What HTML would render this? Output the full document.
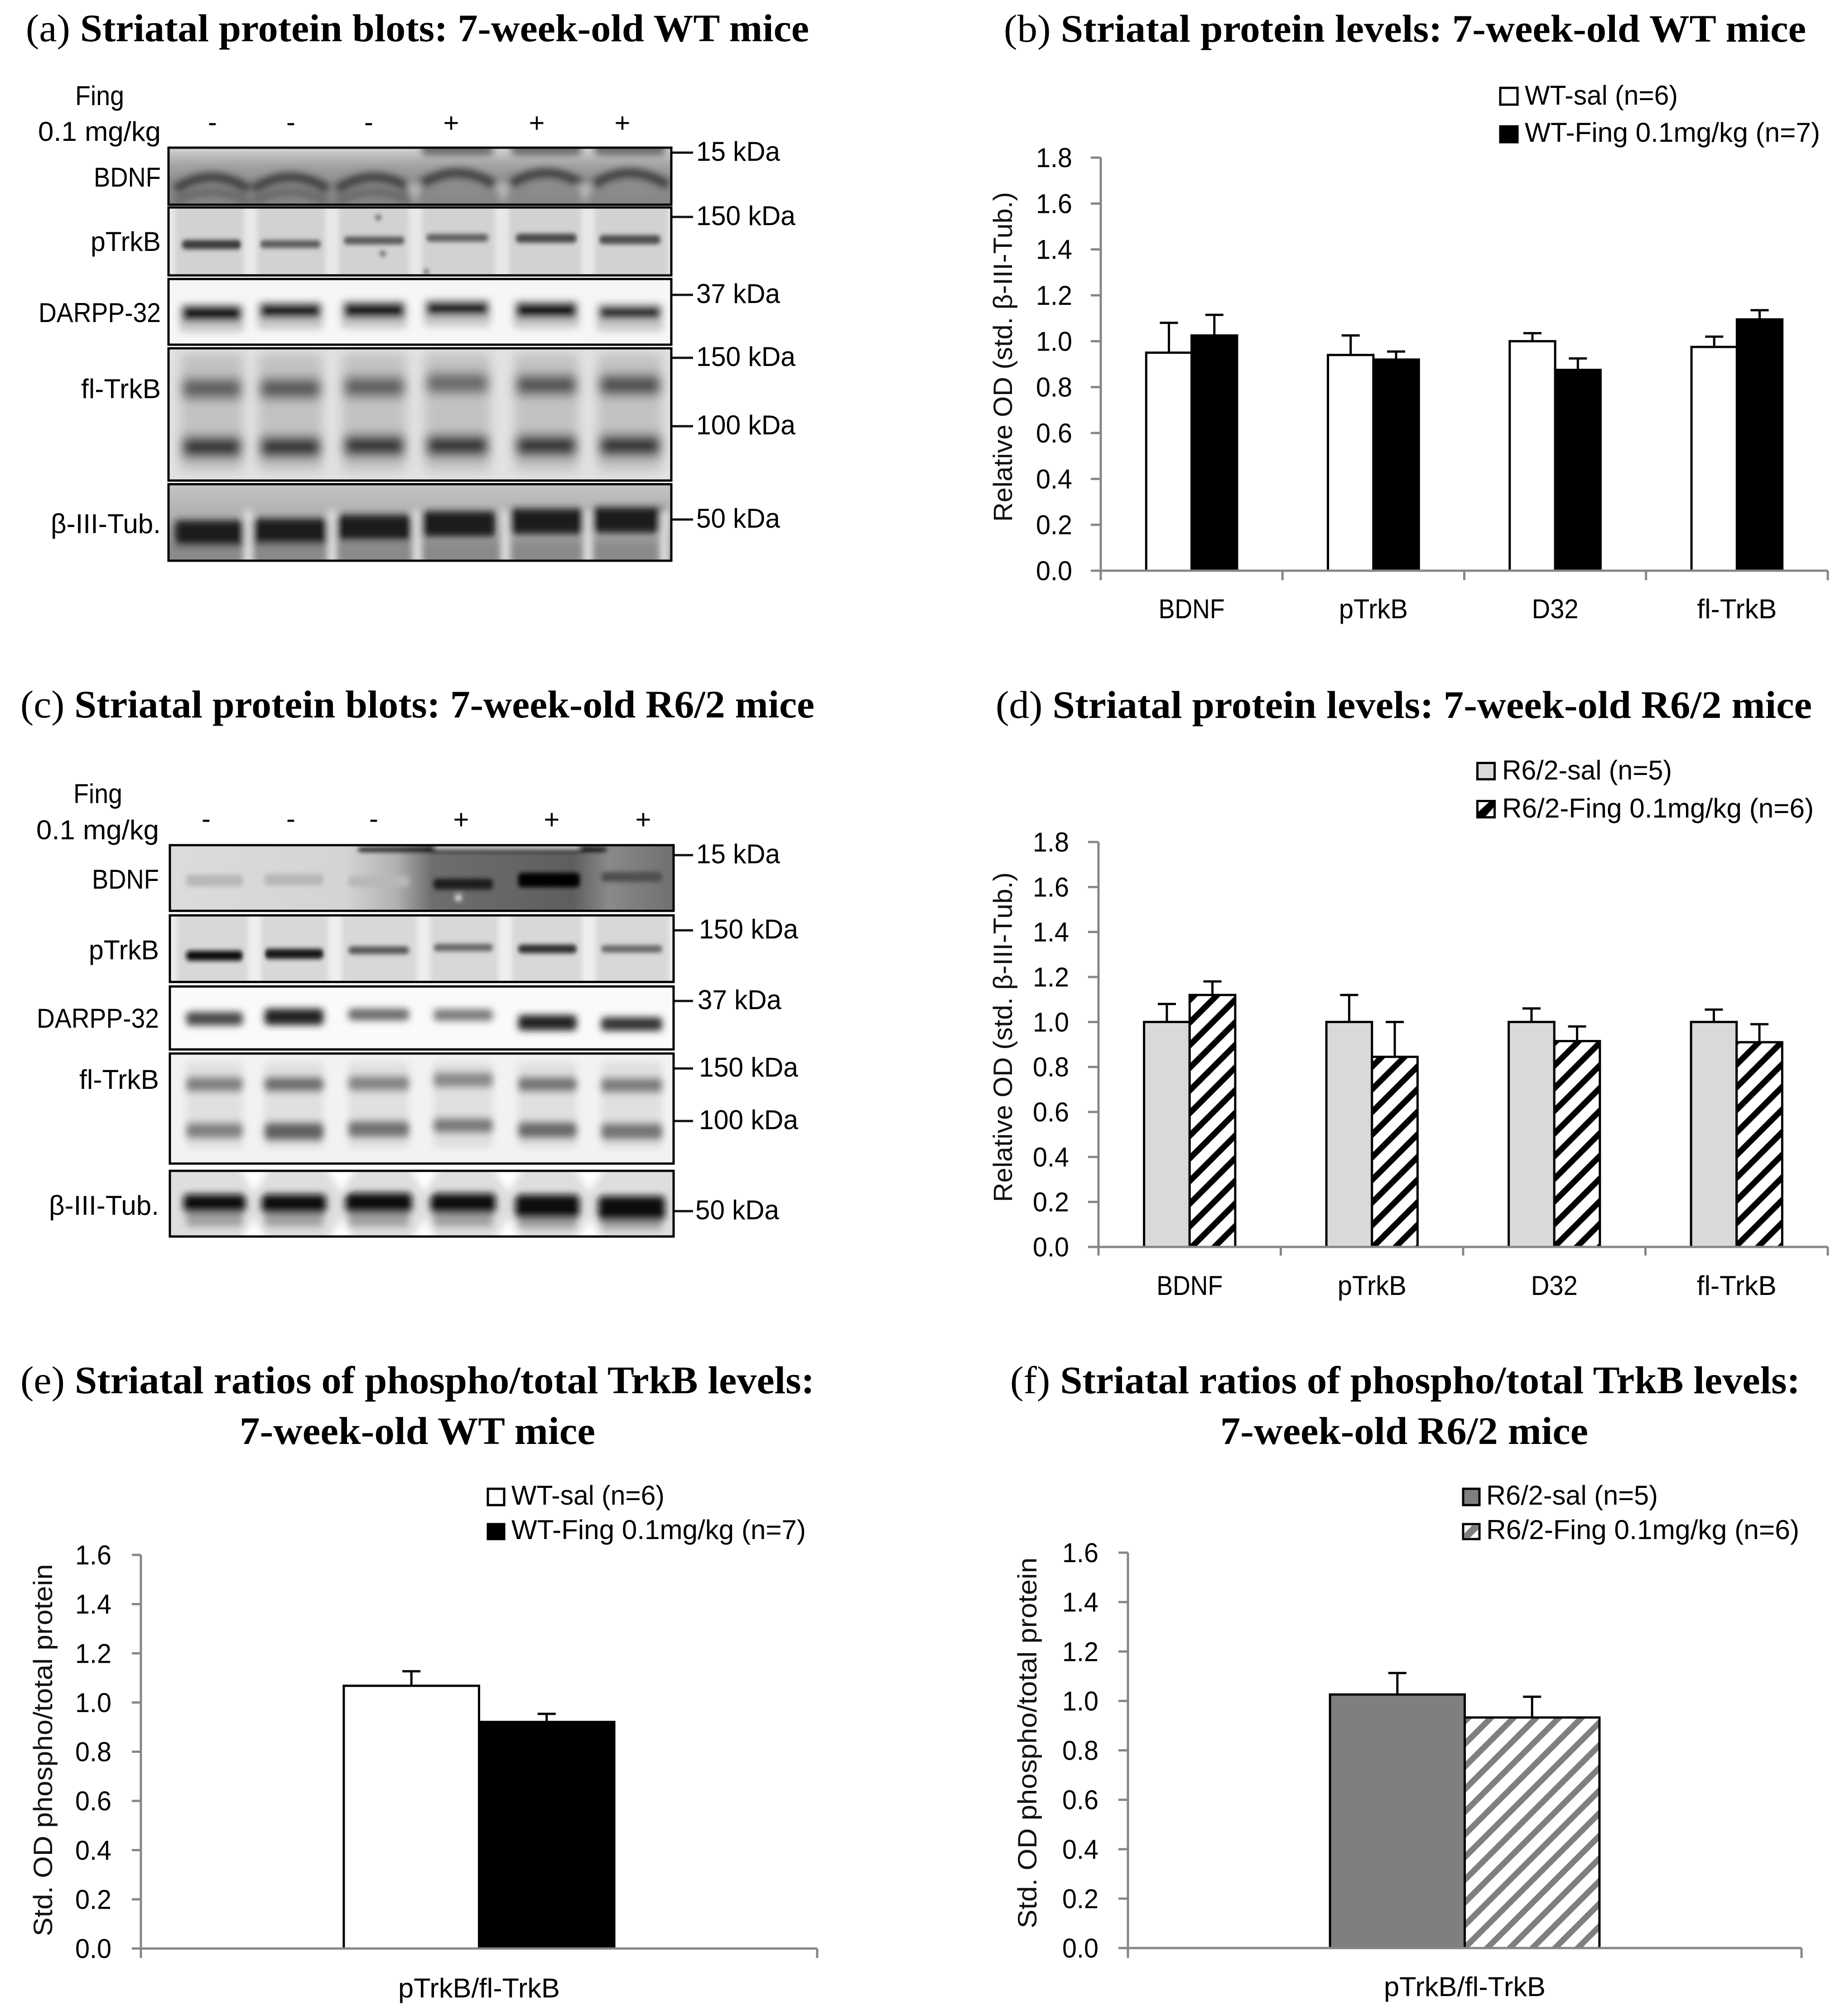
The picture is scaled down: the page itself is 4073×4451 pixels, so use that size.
<!DOCTYPE html>
<html lang="en">
<head>
<meta charset="utf-8">
<title>Striatal protein blots and levels</title>
<style>
html,body{margin:0;padding:0;background:#fff;width:4073px;height:4451px;overflow:hidden}
svg{display:block}
.title{font-family:"Liberation Serif",serif;font-size:86px;fill:#000;font-weight:700}
.title .pre{font-weight:400}
.lbl{font-family:"Liberation Sans",sans-serif;font-size:60px;fill:#000}
.ytitle{font-family:"Liberation Sans",sans-serif;font-size:58px;fill:#111}
</style>
</head>
<body>
<svg id="fig" xmlns="http://www.w3.org/2000/svg" width="4073" height="4451" viewBox="0 0 4073 4451">
<defs>
<pattern id="hatch-black" patternUnits="userSpaceOnUse" width="50" height="50"><rect width="50" height="50" fill="#fff"/><path d="M-5 39L39 -5M29 55L55 29" stroke="#000" stroke-width="13" fill="none"/></pattern>
<pattern id="hatch-gray" patternUnits="userSpaceOnUse" width="50" height="50"><rect width="50" height="50" fill="#fff"/><path d="M-5 39L39 -5M29 55L55 29" stroke="#7f7f7f" stroke-width="13" fill="none"/></pattern>
<linearGradient id="g-a-bdnf" x1="0" y1="0" x2="0" y2="1"><stop offset="0" stop-color="#d4d4d4"/><stop offset=".3" stop-color="#a4a4a4"/><stop offset=".6" stop-color="#8e8e8e"/><stop offset="1" stop-color="#868686"/></linearGradient>
<linearGradient id="g-a-tub" x1="0" y1="0" x2="0" y2="1"><stop offset="0" stop-color="#c4c4c4"/><stop offset=".4" stop-color="#b0b0b0"/><stop offset="1" stop-color="#8c8c8c"/></linearGradient>
<linearGradient id="g-c-bdnf" x1="0" y1="0" x2="1" y2="0"><stop offset="0" stop-color="#dcdcdc"/><stop offset=".35" stop-color="#d4d4d4"/><stop offset=".45" stop-color="#b0b0b0"/><stop offset=".52" stop-color="#6e6e6e"/><stop offset=".8" stop-color="#5e5e5e"/><stop offset=".87" stop-color="#8a8a8a"/><stop offset="1" stop-color="#707070"/></linearGradient>
<filter id="b5" filterUnits="userSpaceOnUse" x="0" y="0" width="4073" height="4451"><feGaussianBlur stdDeviation="5"/></filter>
<filter id="b8" filterUnits="userSpaceOnUse" x="0" y="0" width="4073" height="4451"><feGaussianBlur stdDeviation="8"/></filter>
<filter id="b12" filterUnits="userSpaceOnUse" x="0" y="0" width="4073" height="4451"><feGaussianBlur stdDeviation="12"/></filter>
</defs>

<!-- Titles -->
<text class="title" x="57" y="91" textLength="1729" lengthAdjust="spacingAndGlyphs"><tspan class="pre">(a) </tspan>Striatal protein blots: 7-week-old WT mice</text>
<text class="title" x="2216" y="92" textLength="1771" lengthAdjust="spacingAndGlyphs"><tspan class="pre">(b) </tspan>Striatal protein levels: 7-week-old WT mice</text>
<text class="title" x="45" y="1584" textLength="1753" lengthAdjust="spacingAndGlyphs"><tspan class="pre">(c) </tspan>Striatal protein blots: 7-week-old R6/2 mice</text>
<text class="title" x="2198" y="1585" textLength="1802" lengthAdjust="spacingAndGlyphs"><tspan class="pre">(d) </tspan>Striatal protein levels: 7-week-old R6/2 mice</text>
<text class="title" x="45" y="3076" textLength="1753" lengthAdjust="spacingAndGlyphs"><tspan class="pre">(e) </tspan>Striatal ratios of phospho/total TrkB levels:</text>
<text class="title" x="529" y="3188" textLength="785" lengthAdjust="spacingAndGlyphs">7-week-old WT mice</text>
<text class="title" x="2230" y="3076" textLength="1744" lengthAdjust="spacingAndGlyphs"><tspan class="pre">(f) </tspan>Striatal ratios of phospho/total TrkB levels:</text>
<text class="title" x="2694" y="3188" textLength="812" lengthAdjust="spacingAndGlyphs">7-week-old R6/2 mice</text>

<!-- Blot a headers -->
<text class="lbl" x="166" y="232" textLength="108" lengthAdjust="spacingAndGlyphs">Fing</text>
<text class="lbl" x="84" y="311" textLength="271" lengthAdjust="spacingAndGlyphs">0.1 mg/kg</text>
<g class="lbl" text-anchor="middle">
<text x="469" y="290">-</text><text x="642" y="290">-</text><text x="814" y="290">-</text><text x="996" y="292">+</text><text x="1185" y="292">+</text><text x="1374" y="292">+</text>
</g>
<!-- Blot c headers -->
<text class="lbl" x="162" y="1773" textLength="108" lengthAdjust="spacingAndGlyphs">Fing</text>
<text class="lbl" x="80" y="1853" textLength="271" lengthAdjust="spacingAndGlyphs">0.1 mg/kg</text>
<g class="lbl" text-anchor="middle">
<text x="455" y="1828">-</text><text x="642" y="1828">-</text><text x="825" y="1828">-</text><text x="1018" y="1830">+</text><text x="1218" y="1830">+</text><text x="1420" y="1830">+</text>
</g>

<g id="blots"></g>

<!-- Row labels -->
<g text-anchor="end" class="lbl">
<text x="355" y="412" textLength="148" lengthAdjust="spacingAndGlyphs">BDNF</text>
<text x="355" y="554" textLength="155" lengthAdjust="spacingAndGlyphs">pTrkB</text>
<text x="355" y="711" textLength="270" lengthAdjust="spacingAndGlyphs">DARPP-32</text>
<text x="355" y="879" textLength="176" lengthAdjust="spacingAndGlyphs">fl-TrkB</text>
<text x="355" y="1177" textLength="243" lengthAdjust="spacingAndGlyphs">β-III-Tub.</text>
<text x="351" y="1962" textLength="148" lengthAdjust="spacingAndGlyphs">BDNF</text>
<text x="351" y="2118" textLength="155" lengthAdjust="spacingAndGlyphs">pTrkB</text>
<text x="351" y="2269" textLength="270" lengthAdjust="spacingAndGlyphs">DARPP-32</text>
<text x="351" y="2404" textLength="176" lengthAdjust="spacingAndGlyphs">fl-TrkB</text>
<text x="351" y="2682" textLength="243" lengthAdjust="spacingAndGlyphs">β-III-Tub.</text>
</g>

<!-- kDa markers -->
<g stroke="#111" stroke-width="5">
<path d="M1484 337H1530M1484 479H1530M1484 651H1530M1484 790H1530M1484 941H1530M1484 1147H1530M1489 1888H1530M1489 2054H1530M1489 2210H1530M1489 2359H1530M1489 2475H1530M1489 2674H1530" fill="none"/>
</g>
<g class="lbl">
<text x="1537" y="355" textLength="185" lengthAdjust="spacingAndGlyphs">15 kDa</text>
<text x="1537" y="497" textLength="219" lengthAdjust="spacingAndGlyphs">150 kDa</text>
<text x="1537" y="669" textLength="185" lengthAdjust="spacingAndGlyphs">37 kDa</text>
<text x="1537" y="808" textLength="219" lengthAdjust="spacingAndGlyphs">150 kDa</text>
<text x="1537" y="959" textLength="219" lengthAdjust="spacingAndGlyphs">100 kDa</text>
<text x="1537" y="1165" textLength="185" lengthAdjust="spacingAndGlyphs">50 kDa</text>
<text x="1537" y="1906" textLength="185" lengthAdjust="spacingAndGlyphs">15 kDa</text>
<text x="1543" y="2072" textLength="219" lengthAdjust="spacingAndGlyphs">150 kDa</text>
<text x="1540" y="2228" textLength="185" lengthAdjust="spacingAndGlyphs">37 kDa</text>
<text x="1543" y="2377" textLength="219" lengthAdjust="spacingAndGlyphs">150 kDa</text>
<text x="1543" y="2493" textLength="219" lengthAdjust="spacingAndGlyphs">100 kDa</text>
<text x="1535" y="2692" textLength="185" lengthAdjust="spacingAndGlyphs">50 kDa</text>
</g>

<g id="charts"></g>

<!-- Legends -->
<g>
<rect x="3312" y="194" width="38" height="37" fill="#fff" stroke="#000" stroke-width="5"/>
<text class="lbl" x="3366" y="231" textLength="338" lengthAdjust="spacingAndGlyphs">WT-sal (n=6)</text>
<rect x="3312" y="279" width="38" height="35" fill="#000" stroke="#000" stroke-width="5"/>
<text class="lbl" x="3366" y="313" textLength="652" lengthAdjust="spacingAndGlyphs">WT-Fing 0.1mg/kg (n=7)</text>
</g>
<g>
<rect x="3261.5" y="1684.5" width="38" height="36" fill="#d9d9d9" stroke="#000" stroke-width="5"/>
<text class="lbl" x="3316" y="1721" textLength="375" lengthAdjust="spacingAndGlyphs">R6/2-sal (n=5)</text>
<rect x="3261.5" y="1768.5" width="38" height="36" fill="#fff" stroke="#000" stroke-width="5"/>
<path d="M3264 1792L3287 1771H3297V1783L3280 1802H3264Z" fill="#000"/>
<text class="lbl" x="3316" y="1805" textLength="688" lengthAdjust="spacingAndGlyphs">R6/2-Fing 0.1mg/kg (n=6)</text>
</g>
<g>
<rect x="1077" y="3287" width="36" height="36" fill="#fff" stroke="#000" stroke-width="5"/>
<text class="lbl" x="1129" y="3322" textLength="338" lengthAdjust="spacingAndGlyphs">WT-sal (n=6)</text>
<rect x="1077" y="3365" width="36" height="33" fill="#000" stroke="#000" stroke-width="5"/>
<text class="lbl" x="1129" y="3398" textLength="650" lengthAdjust="spacingAndGlyphs">WT-Fing 0.1mg/kg (n=7)</text>
</g>
<g>
<rect x="3230" y="3287" width="36" height="36" fill="#7f7f7f" stroke="#000" stroke-width="5"/>
<text class="lbl" x="3281" y="3322" textLength="379" lengthAdjust="spacingAndGlyphs">R6/2-sal (n=5)</text>
<rect x="3230" y="3365" width="36" height="33" fill="#fff" stroke="#000" stroke-width="5"/>
<path d="M3233 3385L3250 3368H3263V3377L3245 3395H3233Z" fill="#7f7f7f"/>
<text class="lbl" x="3281" y="3398" textLength="691" lengthAdjust="spacingAndGlyphs">R6/2-Fing 0.1mg/kg (n=6)</text>
</g>
</svg>

<script>
// ---- Chart data ----
const categoriesLevels = ["BDNF", "pTrkB", "D32", "fl-TrkB"];
const categoriesRatio = ["pTrkB/fl-TrkB"];
const ticksLevels = ["0.0", "0.2", "0.4", "0.6", "0.8", "1.0", "1.2", "1.4", "1.6", "1.8"];
const ticksRatio = ["0.0", "0.2", "0.4", "0.6", "0.8", "1.0", "1.2", "1.4", "1.6"];

const bSalValues = [0.95, 0.94, 1.0, 0.975];
const bSalErrors = [0.13, 0.085, 0.035, 0.045];
const bFingValues = [1.025, 0.92, 0.875, 1.095];
const bFingErrors = [0.09, 0.035, 0.05, 0.04];

const dSalValues = [1.0, 1.0, 1.0, 1.0];
const dSalErrors = [0.08, 0.12, 0.06, 0.055];
const dFingValues = [1.12, 0.845, 0.915, 0.91];
const dFingErrors = [0.06, 0.155, 0.065, 0.08];

const eSalValues = [1.068];
const eSalErrors = [0.059];
const eFingValues = [0.921];
const eFingErrors = [0.033];

const fSalValues = [1.026];
const fSalErrors = [0.087];
const fFingValues = [0.933];
const fFingErrors = [0.084];

const NS = "http://www.w3.org/2000/svg";
const labelWidths = {"BDNF":146, "pTrkB":152, "D32":103, "fl-TrkB":176, "pTrkB/fl-TrkB":357};

function mk(parent, tag, attrs, text) {
  const el = document.createElementNS(NS, tag);
  for (const k in attrs) el.setAttribute(k, attrs[k]);
  if (text !== undefined) el.textContent = text;
  parent.appendChild(el);
  return el;
}

function drawChart(opts) {
  const root = document.getElementById("charts");
  const g = mk(root, "g", {});
  
  
  const f = opts.frame;
  const maxV = parseFloat(opts.ticks[opts.ticks.length - 1]);
  const y = v => f.bottom - (v / maxV) * (f.bottom - f.top);
  const catW = (f.right - f.left) / opts.categories.length;
  const catX = i => f.left + catW * i;
  const barW = catW * opts.barFrac;
  const barX = (i, s) => catX(i) + (catW - 2 * barW) / 2 + s * barW;

  // bars and error bars
  opts.series.forEach((s, si) => {
    s.values.forEach((v, i) => {
      const r = mk(g, "rect", {x: barX(i, si), y: y(v), width: barW, height: f.bottom - y(v), fill: s.fill, stroke: "#000", "stroke-width": 5});
      
      
    });
  });
  opts.series.forEach((s, si) => {
    s.values.forEach((v, i) => {
      const cx = barX(i, si) + barW / 2;
      const top = y(v + s.errors[i]);
      const e = mk(g, "path", {d: "M" + cx + " " + y(v) + "V" + top + "M" + (cx - 20) + " " + top + "H" + (cx + 20), stroke: "#000", "stroke-width": 5, fill: "none"});
      
      
    });
  });

  // axes
  const axisColor = "#868686";
  const yAxis = mk(g, "path", {d: "M" + f.left + " " + f.top + "V" + f.bottom, stroke: axisColor, "stroke-width": 5, fill: "none"});
  
  
  const xAxis = mk(g, "path", {d: "M" + f.left + " " + f.bottom + "H" + f.right, stroke: axisColor, "stroke-width": 5, fill: "none"});
  
  

  opts.ticks.forEach(label => {
    const v = parseFloat(label);
    const tick = mk(g, "path", {d: "M" + f.tickLeft + " " + y(v) + "H" + f.left, stroke: axisColor, "stroke-width": 5});
    
    
    const t = mk(g, "text", {x: f.labelRight, y: y(v) + 21, "text-anchor": "end", "class": "lbl", textLength: 80, lengthAdjust: "spacingAndGlyphs"}, label);
    
    
  });
  for (let i = 0; i <= opts.categories.length; i++) {
    const tick = mk(g, "path", {d: "M" + catX(i) + " " + f.bottom + "V" + f.tickDown, stroke: axisColor, "stroke-width": 5});
    
    
  }
  opts.categories.forEach((c, i) => {
    const cx = catX(i) + catW / 2 + (opts.labelShift || 0);
    const t = mk(g, "text", {x: cx, y: f.catBase, "text-anchor": "middle", "class": "lbl", textLength: labelWidths[c], lengthAdjust: "spacingAndGlyphs"}, c);
    
    
  });

  // y title
  const yt = opts.yTitle;
  const title = mk(g, "text", {x: yt.x, y: yt.y, "text-anchor": "middle", "class": "ytitle", textLength: yt.len, lengthAdjust: "spacingAndGlyphs", transform: "rotate(-90 " + yt.x + " " + yt.y + ")"}, yt.text);
  
  
}

drawChart({
  name: "chart-b-wt-levels", categories: categoriesLevels, ticks: ticksLevels, barFrac: 0.25, labelShift: 0,
  frame: {left: 2430, right: 4035, top: 348, bottom: 1260, tickLeft: 2408, tickDown: 1281, labelRight: 2367, catBase: 1365},
  yTitle: {x: 2234, y: 788, len: 728, text: "Relative OD (std. β-III-Tub.)"},
  series: [
    {key: "wt-sal", values: bSalValues, errors: bSalErrors, fill: "#fff"},
    {key: "wt-fing", values: bFingValues, errors: bFingErrors, fill: "#000"}
  ]
});
drawChart({
  name: "chart-d-r62-levels", categories: categoriesLevels, ticks: ticksLevels, barFrac: 0.25, labelShift: 0,
  frame: {left: 2425, right: 4035, top: 1859, bottom: 2753, tickLeft: 2402, tickDown: 2772, labelRight: 2360, catBase: 2859},
  yTitle: {x: 2234, y: 2290, len: 728, text: "Relative OD (std. β-III-Tub.)"},
  series: [
    {key: "r62-sal", values: dSalValues, errors: dSalErrors, fill: "#d9d9d9"},
    {key: "r62-fing", values: dFingValues, errors: dFingErrors, fill: "url(#hatch-black)"}
  ]
});
drawChart({
  name: "chart-e-wt-ratio", categories: categoriesRatio, ticks: ticksRatio, barFrac: 0.2, labelShift: 0,
  frame: {left: 311, right: 1804, top: 3433, bottom: 4302, tickLeft: 291, tickDown: 4323, labelRight: 246, catBase: 4410},
  yTitle: {x: 115, y: 3864, len: 822, text: "Std. OD phospho/total protein"},
  series: [
    {key: "wt-sal", values: eSalValues, errors: eSalErrors, fill: "#fff"},
    {key: "wt-fing", values: eFingValues, errors: eFingErrors, fill: "#000"}
  ]
});
drawChart({
  name: "chart-f-r62-ratio", categories: categoriesRatio, ticks: ticksRatio, barFrac: 0.2, labelShift: 0,
  frame: {left: 2490, right: 3977, top: 3428, bottom: 4301, tickLeft: 2469, tickDown: 4323, labelRight: 2425, catBase: 4407},
  yTitle: {x: 2288, y: 3848, len: 819, text: "Std. OD phospho/total protein"},
  series: [
    {key: "r62-sal", values: fSalValues, errors: fSalErrors, fill: "#7f7f7f"},
    {key: "r62-fing", values: fFingValues, errors: fFingErrors, fill: "url(#hatch-gray)"}
  ]
});

// ---- Blot images, painted with blurred shapes ----
const lanesA = [[402,533],[574,708],[759,893],[941,1078],[1139,1273],[1323,1458]];
const lanesC = [[411,536],[584,714],[769,903],[957,1088],[1144,1273],[1327,1462]];
let clipCount = 0;

function panel(name, box, bg, blur, paint) {
  const root = document.getElementById("blots");
  const outer = mk(root, "g", {});
  
  
  const id = "clip" + (clipCount++);
  const cp = mk(outer, "clipPath", {id: id});
  mk(cp, "rect", {x: box[0], y: box[1], width: box[2], height: box[3]});
  const c = mk(outer, "g", {"clip-path": "url(#" + id + ")"});
  mk(c, "rect", {x: box[0], y: box[1], width: box[2], height: box[3], fill: bg});
  const g = mk(c, "g", {filter: "url(#" + blur + ")"});
  paint(g);
  mk(outer, "rect", {x: box[0], y: box[1], width: box[2], height: box[3], fill: "none", stroke: "#000", "stroke-width": 5});
}
function band(g, x0, x1, yc, h, fill) {
  mk(g, "rect", {x: x0, y: yc - h / 2, width: x1 - x0, height: h, fill: fill, rx: 8});
}
function laneBands(g, lanes, ys, hs, cols, pad) {
  lanes.forEach((l, i) => band(g, l[0] - (pad || 0), l[1] + (pad || 0), ys[i], hs[i], cols[i]));
}
function rep(v) { return [v, v, v, v, v, v]; }

// Panel (a)
panel("blot-bdnf-a", [372,326,1110,126], "url(#g-a-bdnf)", "b8", g => {
  [3,4,5].forEach(i => band(g, lanesA[i][0] - 10, lanesA[i][1] + 10, 330, 26, "#6a6a6a"));
  lanesA.forEach((l, i) => {
    const yb = i < 3 ? 394 : 385;
    mk(g, "path", {d: "M" + (l[0] - 16) + " " + (yb + 24) + "Q" + ((l[0] + l[1]) / 2) + " " + (yb - 30) + " " + (l[1] + 16) + " " + (yb + 24), stroke: "#3e3e3e", "stroke-width": 20, fill: "none"});
    if (i < 3) mk(g, "path", {d: "M" + (l[0] - 16) + " " + (yb + 52) + "Q" + ((l[0] + l[1]) / 2) + " " + (yb + 8) + " " + (l[1] + 16) + " " + (yb + 52), stroke: "#666", "stroke-width": 18, fill: "none"});
  });
  [915, 1110, 1292].forEach(x => mk(g, "path", {d: "M" + (x - 18) + " 405L" + x + " 452L" + (x + 18) + " 405Z", fill: "#b8b8b8"}));
});
panel("blot-ptrkb-a", [372,458,1110,150], "#d2d2d2", "b5", g => {
  [553,733,917,1108,1298,1490,372].forEach(x => band(g, x - 15, x + 15, 533, 170, "#e8e8e8"));
  laneBands(g, lanesA, [540,539,531,525,526,529], [20,17,17,17,20,20], ["#383838","#585858","#585858","#5e5e5e","#484848","#4e4e4e"]);
  [[835,480],[845,560],[940,600]].forEach(p => mk(g, "circle", {cx: p[0], cy: p[1], r: 6, fill: "#555"}));
});
panel("blot-darpp-a", [372,616,1110,145], "#f6f6f6", "b8", g => {
  laneBands(g, lanesA, [702,696,694,690,694,700], rep(62), rep("#c8c8c8"), 6);
  laneBands(g, lanesA, [692,686,685,681,685,690], [34,32,34,30,34,28], ["#0c0c0c","#141414","#141414","#080808","#080808","#1c1c1c"]);
});
panel("blot-fltrkb-a", [372,769,1110,292], "#e2e2e2", "b12", g => {
  lanesA.forEach(l => band(g, l[0] - 4, l[1] + 4, 910, 260, "#c2c2c2"));
  laneBands(g, lanesA, [858,858,854,846,850,850], rep(46), ["#5e5e5e","#5a5a5a","#606060","#6a6a6a","#545454","#505050"]);
  laneBands(g, lanesA, [987,987,984,984,984,984], rep(48), rep("#343434"));
});
panel("blot-tub-a", [372,1069,1110,169], "url(#g-a-tub)", "b8", g => {
  mk(g, "rect", {x: 340, y: 1198, width: 1180, height: 60, fill: "#8a8a8a"});
  laneBands(g, lanesA, [1177,1173,1165,1157,1151,1148], rep(56), rep("#1e1e1e"), 16);
  [548,733,921,1116,1298,1467].forEach(x => band(g, x - 8, x + 8, 1195, 140, "#eaeaea"));
});

// Panel (c)
panel("blot-bdnf-c", [375,1866,1112,145], "url(#g-c-bdnf)", "b5", g => {
  laneBands(g, lanesC.slice(0, 3), [1944,1942,1946], [26,26,24], rep("#b8b8b8"));
  band(g, 957, 1088, 1952, 24, "#1e1e1e");
  band(g, 1144, 1280, 1943, 32, "#000");
  band(g, 1327, 1462, 1936, 22, "#505050");
  band(g, 790, 1340, 1876, 8, "#000");
  band(g, 960, 1280, 1869, 6, "#fff");
  mk(g, "circle", {cx: 1012, cy: 1982, r: 8, fill: "#ddd"});
});
panel("blot-ptrkb-c", [375,2021,1112,147], "#d8d8d8", "b5", g => {
  [562,740,935,1115,1300,1492,375].forEach(x => band(g, x - 15, x + 15, 2090, 170, "#eeeeee"));
  laneBands(g, lanesC, [2110,2106,2098,2092,2095,2095], [22,22,17,16,19,16], ["#101010","#181818","#545454","#646464","#2e2e2e","#666"]);
});
panel("blot-darpp-c", [375,2178,1112,139], "#fafafa", "b8", g => {
  laneBands(g, lanesC, [2249,2245,2240,2241,2258,2261], [30,36,26,26,34,30], ["#484848","#202020","#6a6a6a","#7a7a7a","#202020","#303030"]);
});
panel("blot-fltrkb-c", [375,2326,1112,243], "#f2f2f2", "b8", g => {
  lanesC.forEach(l => band(g, l[0], l[1], 2440, 190, "#e0e0e0"));
  laneBands(g, lanesC, [2394,2394,2392,2384,2394,2396], rep(34), ["#828282","#707070","#868686","#8a8a8a","#767676","#7e7e7e"]);
  laneBands(g, lanesC, [2496,2498,2493,2485,2495,2498], [36,42,38,34,38,38], ["#828282","#626262","#727272","#7a7a7a","#6a6a6a","#767676"]);
});
panel("blot-tub-c", [375,2585,1112,145], "#dedede", "b8", g => {
  [561,753,937,1122,1301].forEach(x => {
    mk(g, "path", {d: "M" + (x - 36) + " 2575L" + x + " 2632L" + (x + 36) + " 2575Z", fill: "#fff"});
    mk(g, "path", {d: "M" + (x - 34) + " 2745L" + x + " 2690L" + (x + 34) + " 2745Z", fill: "#fff"});
  });
  laneBands(g, lanesC, [2690,2690,2690,2690,2694,2696], rep(36), rep("#a0a0a0"), 0);
  laneBands(g, lanesC, [2657,2658,2656,2657,2664,2668], [40,42,44,44,52,54], rep("#101010"), 6);
});
</script>
</body>
</html>
